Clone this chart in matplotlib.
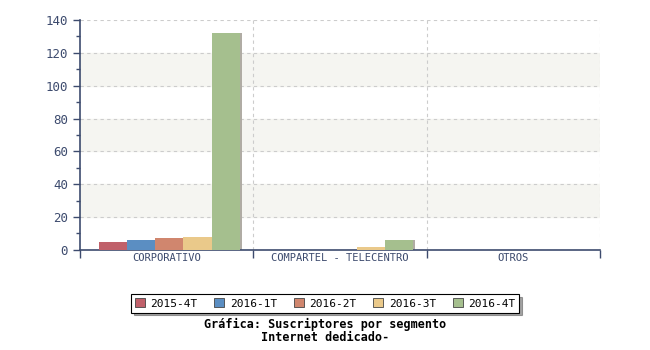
import numpy as np
import matplotlib.pyplot as plt
from matplotlib.patches import Patch

# ----------------------------
# Data
# ----------------------------
categories = ["CORPORATIVO", "COMPARTEL - TELECENTRO", "OTROS"]
periods = ["2015-4T", "2016-1T", "2016-2T", "2016-3T", "2016-4T"]
v_2015_4t = [5, 0, 0]
v_2016_1t = [6, 0, 0]
v_2016_2t = [7, 0, 0]
v_2016_3t = [8, 2, 0]
v_2016_4t = [132, 6, 0]
series = [v_2015_4t, v_2016_1t, v_2016_2t, v_2016_3t, v_2016_4t]
colors = ["#c0606a", "#5b8ec2", "#d0866e", "#eac98a", "#a5bf8e"]

y_ticks = [0, 20, 40, 60, 80, 100, 120, 140]
title = "Gráfica: Suscriptores por segmento\nInternet dedicado-"

# ----------------------------
# Figure
# ----------------------------
plt.rcParams['font.family'] = ['DejaVu Sans Mono']
axis_col = "#3d4b6e"

fig = plt.figure(figsize=(6.5, 3.5), dpi=100)
ax = fig.add_axes([0.123, 0.286, 0.8, 0.657])

x = np.arange(len(categories))
bw = 0.162
offsets = (np.arange(len(series)) - 1.9) * bw

# alternating bands
for lo in range(20, 140, 40):
    ax.axhspan(lo, lo + 20, color="#f5f5f1", zorder=0)

for vals, off, col in zip(series, offsets, colors):
    ax.bar(x + off + 0.012, vals, bw, color="#b0aca4", zorder=2)   # shadow
    ax.bar(x + off, vals, bw, color=col, zorder=3)

ax.set_xlim(-0.5, 2.5)
ax.set_ylim(0, 140)
ax.set_yticks(y_ticks)
ax.set_yticks(range(0, 141, 10), minor=True)
ax.set_xticks(x)
ax.set_xticklabels(categories)
ax.set_xticks([-0.5, 0.5, 1.5, 2.5], minor=True)

ax.grid(axis="y", which="major", ls=(0, (3, 3)), color="#cccccc", lw=0.8, zorder=1)
for b in [0.5, 1.5, 2.5]:
    ax.axvline(b, ls=(0, (3, 3)), color="#cccccc", lw=0.8, zorder=1)

for s in ["top", "right"]:
    ax.spines[s].set_visible(False)
for s in ["left", "bottom"]:
    ax.spines[s].set_color(axis_col)
    ax.spines[s].set_linewidth(1.2)

ax.tick_params(axis="y", which="both", colors=axis_col, labelsize=9, length=5, width=1)
ax.tick_params(axis="y", which="minor", length=3)
ax.tick_params(axis="x", which="major", length=0, labelsize=7.5, colors=axis_col, pad=2)
ax.tick_params(axis="x", which="minor", length=6, width=1, colors=axis_col)

handles = [Patch(facecolor=c, edgecolor="#444444", lw=0.6) for c in colors]
leg = fig.legend(handles, periods, loc="center", bbox_to_anchor=(0.50, 0.133),
                 ncol=5, fontsize=8, frameon=True, fancybox=False, shadow=True,
                 handlelength=0.9, handleheight=0.9, handletextpad=0.5,
                 columnspacing=1.5, borderpad=0.35)
leg.get_frame().set_edgecolor("black")
leg.get_frame().set_linewidth(0.8)

fig.text(0.5, 0.093, title, ha="center", va="top", fontsize=8.5,
         fontweight="bold", linespacing=1.0)

fig.savefig("out.png", dpi=100)
